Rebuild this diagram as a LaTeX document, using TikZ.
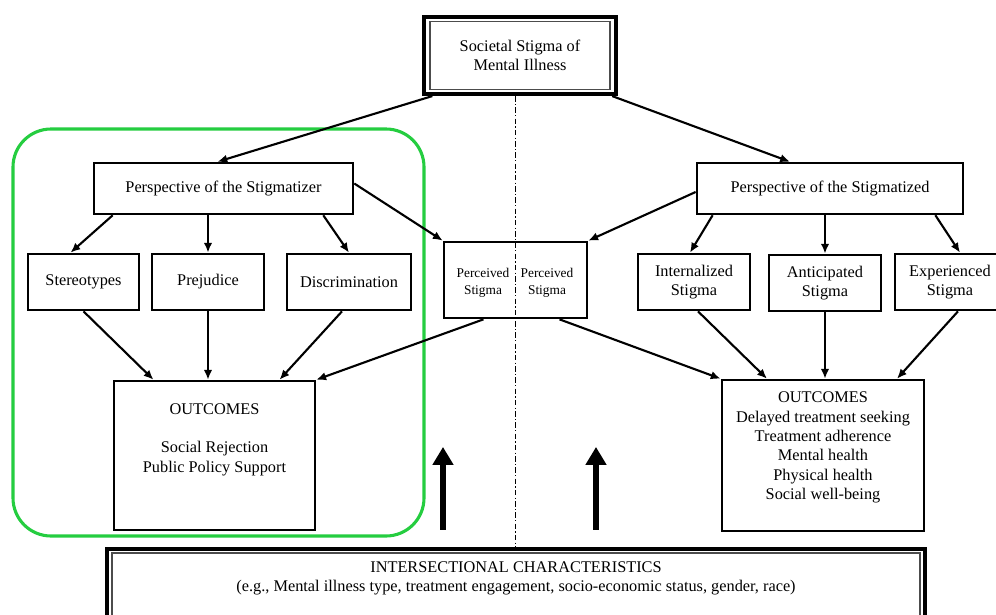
\documentclass[tikz,border=0pt]{standalone}
\usepackage{fontspec}
\setmainfont{Liberation Serif}
\usetikzlibrary{arrows.meta}
\definecolor{groupgreen}{RGB}{37,205,64}

\begin{document}
\begin{tikzpicture}[x=0.025cm, y=-0.025cm,
    every node/.style={font=\fontsize{11.6}{13.8}\selectfont, align=center},
    box/.style={draw, line width=1.9pt, inner sep=0pt},
    frame/.style={draw, line width=2.8pt, inner sep=0pt},
    small/.style={font=\fontsize{9.5}{12}\selectfont},
    con/.style={line width=1.5pt, -{Latex[length=7pt,width=6pt]}},
    bigup/.style={line width=4.5pt, -{Triangle[length=0.45cm,width=0.5cm]}},
    divider/.style={line width=0.7pt, dash pattern=on 4pt off 1.5pt on 1pt off 1.5pt}]
    \useasboundingbox (0,0) rectangle (996,614);
    \clip (0,0) rectangle (996,614);
    % green group
    \draw [groupgreen, line width=2.2pt, rounded corners=0.95cm] (13,129) rectangle (424,536);
    % top and bottom frames
    \node [frame, minimum width=4.81cm, minimum height=1.93cm] (top) at (520,55.5) {Societal Stigma of\\Mental Illness};
    \draw [line width=1pt, black!70] ([shift={(8,6.5)}]top.north west) rectangle ([shift={(-8,-6.5)}]top.south east);
    \node [frame, minimum width=20.45cm, minimum height=1.78cm] (inter) at (516,584.5) {};
    \draw [line width=1pt, black!70] ([shift={(7,6)}]inter.north west) rectangle ([shift={(-7,-6)}]inter.south east);
    \node (intertxt) at ([shift={(0,-6)}]inter.center) {INTERSECTIONAL CHARACTERISTICS\\(e.g., Mental illness type, treatment engagement, socio-economic status, gender, race)};
    \coordinate (divtop) at ([shift={(-5,0)}]top.south);
    \draw [divider] (divtop) -- (divtop |- inter.north);
    % stigmatizer side
    \node [box, minimum width=6.47cm, minimum height=1.27cm] (stigmatizer) at (223.5,188.5) {Perspective of the Stigmatizer};
    \node [box, minimum width=2.78cm, minimum height=1.4cm] (stereo) at (83.5,282) {Stereotypes};
    \node [box, minimum width=2.8cm, minimum height=1.4cm] (prej) at (208,282) {Prejudice};
    \node [box, minimum width=3.1cm, minimum height=1.4cm] (discr) at (349,282) {Discrimination};
    \node [box, minimum width=5.02cm, minimum height=3.72cm] (outL) at (214.5,455.5) {};
    \node (outLtxt) at ([shift={(0,-16)}]outL.center) {OUTCOMES\\[13.8pt]Social Rejection\\Public Policy Support};
    % perceived stigma
    \node [box, minimum width=3.57cm, minimum height=1.9cm] (perc) at (515.5,280) {};
    \node [small] (percL) at (483,283) {Perceived\\Stigma};
    \node [small] (percR) at (547,283) {Perceived\\Stigma};
    % stigmatized side
    \node [box, minimum width=6.65cm, minimum height=1.27cm] (stigmatized) at (830,188.5) {Perspective of the Stigmatized};
    \node [box, minimum width=2.8cm, minimum height=1.4cm] (intern) at (694,282) {Internalized\\Stigma};
    \node [box, minimum width=2.8cm, minimum height=1.4cm] (antic) at (825,283) {Anticipated\\Stigma};
    \node [box, minimum width=2.75cm, minimum height=1.4cm] (exper) at (950,282) {Experienced\\Stigma};
    \node [box, minimum width=5.05cm, minimum height=3.77cm] (outR) at (823,455.5) {};
    \node (outRtxt) at ([shift={(0,-8)}]outR.center) {OUTCOMES\\Delayed treatment seeking\\Treatment adherence\\Mental health\\Physical health\\Social well-being};
    % connectors
    \draw [con] ([shift={(10.5,0)}]top.south west) -- ([shift={(-6,0)}]stigmatizer.north);
    \draw [con] ([shift={(-6,0)}]top.south east) -- ([shift={(-40,0)}]stigmatized.north);
    \draw [con] ([shift={(20,0)}]stigmatizer.south west) -- ([shift={(-13,0)}]stereo.north);
    \draw [con] (prej.north |- stigmatizer.south) -- (prej.north);
    \draw [con] ([shift={(-31,0)}]stigmatizer.south east) -- (discr.north);
    \draw [con] (stereo.south) -- ([shift={(-61,0)}]outL.north);
    \draw [con] (prej.south) -- (prej.south |- outL.north);
    \draw [con] ([shift={(-7,0)}]discr.south) -- ([shift={(65,0)}]outL.north);
    \draw [con] ([shift={(0,-5)}]stigmatizer.east) -- (perc.north west);
    \draw [con] ([shift={(0,3.5)}]stigmatized.west) -- (perc.north east);
    \draw [con] ([shift={(-32,0)}]perc.south) -- (outL.north east);
    \draw [con] ([shift={(44,0)}]perc.south) -- (outR.north west);
    \draw [con] ([shift={(17,0)}]stigmatized.south west) -- ([shift={(-4,0)}]intern.north);
    \draw [con] (antic.north |- stigmatized.south) -- (antic.north);
    \draw [con] ([shift={(-29,0)}]stigmatized.south east) -- ([shift={(10,0)}]exper.north);
    \draw [con] ([shift={(4,0)}]intern.south) -- ([shift={(-56,0)}]outR.north);
    \draw [con] (antic.south) -- (antic.south |- outR.north);
    \draw [con] ([shift={(8,0)}]exper.south) -- ([shift={(74,0)}]outR.north);
    % big arrows
    \draw [bigup] ([shift={(-73,-17)}]inter.north) -- ++(0,-83);
    \draw [bigup] ([shift={(80,-17)}]inter.north) -- ++(0,-83);
\end{tikzpicture}
\end{document}
